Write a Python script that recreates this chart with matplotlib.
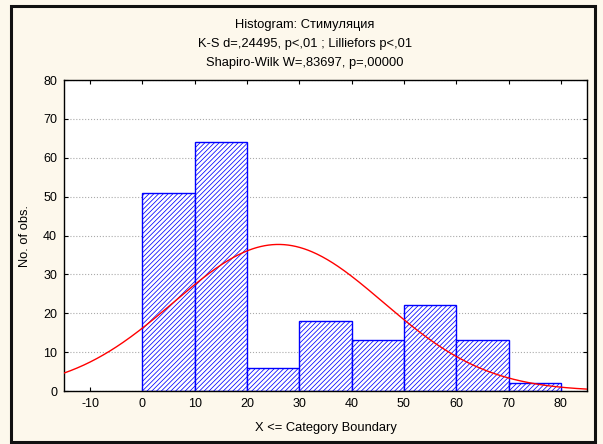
import numpy as np
import matplotlib
matplotlib.use('Agg')
from matplotlib import pyplot as plt
from matplotlib.patches import Rectangle

plt.rcParams['font.family'] = ['Liberation Sans', 'DejaVu Sans']
plt.rcParams['axes.unicode_minus'] = False
plt.rcParams['hatch.linewidth'] = 0.55
plt.rcParams['hatch.color'] = '#1a1aff'

# данные гистограммы
bin_edges = [0, 10, 20, 30, 40, 50, 60, 70, 80]
counts = [51, 64, 6, 18, 13, 22, 13, 2]
# параметры нормальной кривой
fit_mean = 26.0
fit_sd = 20.0
title_lines = ['Histogram: Стимуляция',
               'K-S d=,24495, p<,01 ; Lilliefors p<,01',
               'Shapiro-Wilk W=,83697, p=,00000']
x_ticks = [-10, 0, 10, 20, 30, 40, 50, 60, 70, 80]
y_ticks = [0, 10, 20, 30, 40, 50, 60, 70, 80]

fig = plt.figure(figsize=(6.03, 4.44), dpi=100)
fig.patch.set_facecolor('#fdf8ec')
fig.patches.append(Rectangle((11 / 603, 1 - 442 / 444), 584 / 603, 436 / 444,
                             transform=fig.transFigure, fill=False,
                             edgecolor='#111111', linewidth=2.2))

ax = fig.add_axes([64 / 603, 1 - 391 / 444, 523 / 603, 311 / 444])
ax.set_facecolor('white')

widths = np.diff(bin_edges)
ax.bar(bin_edges[:-1], counts, width=widths, align='edge', color='white',
       edgecolor='#0000ff', hatch='///////', linewidth=1.0, zorder=2)

xs = np.linspace(-15, 85, 400)
n = sum(counts)
ys = n * 10 / (fit_sd * np.sqrt(2 * np.pi)) * np.exp(-(xs - fit_mean) ** 2 / (2 * fit_sd ** 2))
ax.plot(xs, ys, color='#ff0000', linewidth=1.0, zorder=3)

ax.set_xlim(-15, 85)
ax.set_ylim(0, 80)
ax.set_xticks(x_ticks)
ax.set_yticks(y_ticks)
ax.tick_params(direction='in', length=3, labelsize=9, top=True, right=True,
               labeltop=False, labelright=False, color='black', pad=5)
ax.yaxis.grid(True, linestyle=':', color='#aaaaaa', linewidth=0.8)
ax.set_axisbelow(True)
for s in ax.spines.values():
    s.set_linewidth(1.0)

ax.set_xlabel('X <= Category Boundary', fontsize=9.3, labelpad=9)
ax.set_ylabel('No. of obs.', fontsize=9.3, labelpad=9)

for i, t in enumerate(title_lines):
    fig.text(305 / 603, 1 - (25 + i * 19) / 444, t, ha='center', va='center', fontsize=9.3)

fig.savefig('out.png', dpi=100, facecolor=fig.get_facecolor())
